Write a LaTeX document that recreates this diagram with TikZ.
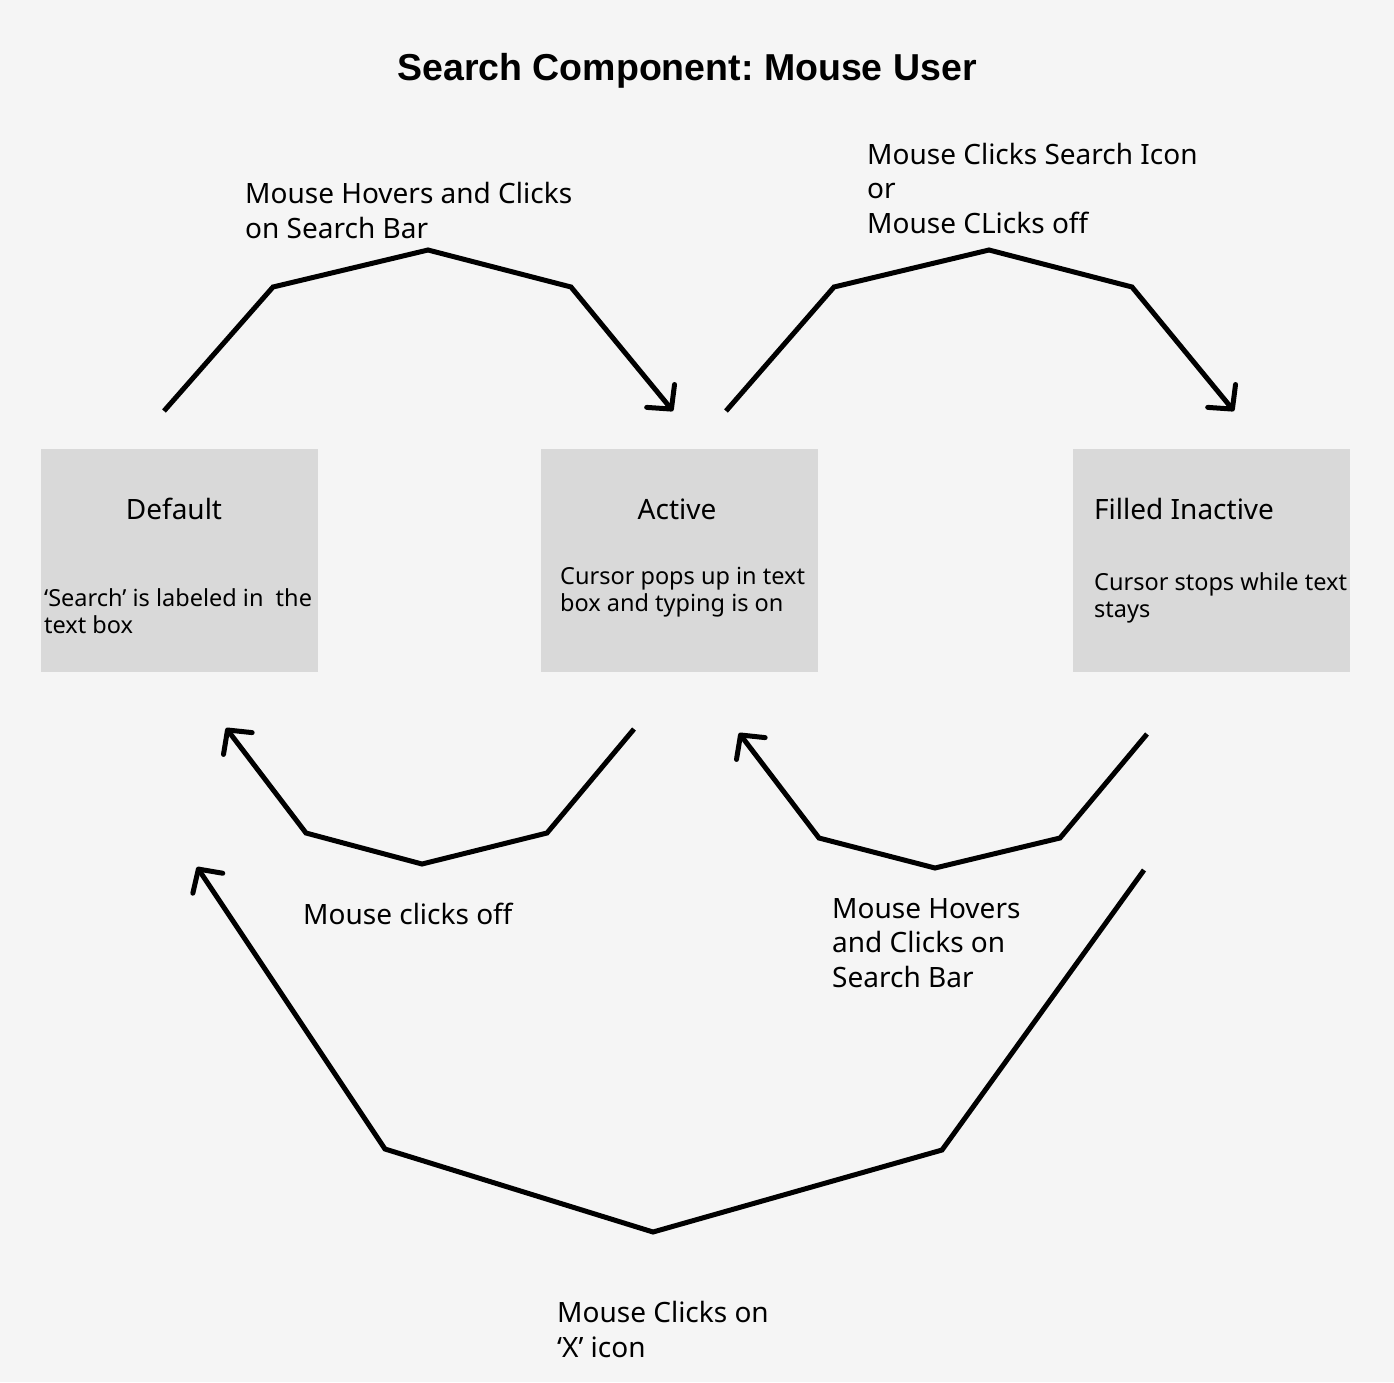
\documentclass[tikz,border=0pt]{standalone}
\usepackage{fontspec}
\setmainfont{Noto Sans}
\newfontfamily\titlefont{Liberation Sans}
\usetikzlibrary{arrows.meta}
\definecolor{canvas}{HTML}{F5F5F5}
\definecolor{boxgray}{HTML}{D9D9D9}
\frenchspacing
\tikzset{
    statebox/.style={fill=boxgray, minimum width=277pt, minimum height=223pt,
        inner sep=0pt, anchor=north west},
    flow/.style={line width=5pt, -{Straight Barb[length=17pt,width=36pt,round]}},
    lbl/.style={font=\fontsize{28}{34.5}\selectfont, align=left,
        anchor=base west, inner sep=0pt},
    head/.style={font=\fontsize{28}{30}\selectfont, inner sep=0pt, anchor=base},
    body/.style={font=\fontsize{23.5}{27}\selectfont, align=left,
        anchor=base west, inner sep=0pt}
}

\begin{document}
\begin{tikzpicture}[x=1pt, y=-1pt]
    \fill [canvas] (0,0) rectangle (1394,1382);
    \node [font=\titlefont\bfseries\fontsize{37.5}{40}\selectfont, inner sep=0pt, anchor=base]
        (title) at (687,80) {Search Component: Mouse User};
    % the three states
    \node [statebox] (default) at (41,449) {};
    \node [statebox] (active) at (541,449) {};
    \node [statebox] (filled) at (1073,449) {};
    \node [head] (defaulthead) at (174,519) {Default};
    \node [head] (activehead) at (677,519) {Active};
    \node [head, anchor=base west] (filledhead) at (1094,519) {Filled Inactive};
    % base anchor of a multi-line node sits on its last line
    \node [body] (defaultbody) at (44,633) {‘Search’ is labeled in \ the\\text box};
    \node [body] (activebody) at (560,611) {Cursor pops up in text\\box and typing is on};
    \node [body] (filledbody) at (1094,617) {Cursor stops while text\\stays};
    % free ends of the arrows
    \coordinate (defout) at (164,411);
    \coordinate (actin) at (673,411);
    \coordinate (actout) at (726,411);
    \coordinate (filin) at (1234,411);
    \coordinate (actback) at (634,729);
    \coordinate (defin) at (226,728);
    \coordinate (filback) at (1147,734);
    \coordinate (actin2) at (739,733);
    \coordinate (filx) at (1144,870);
    \coordinate (defx) at (197,867);
    \draw [flow] (defout) -- (273,287) -- (428,250) -- (571,287) -- (actin);
    \draw [flow] (actout) -- (834,287) -- (989,250) -- (1132,287) -- (filin);
    \draw [flow] (actback) -- (547,833) -- (422,864) -- (306,833) -- (defin);
    \draw [flow] (filback) -- (1060,838) -- (935,868) -- (819,838) -- (actin2);
    \draw [flow] (filx) -- (942,1150) -- (653,1232) -- (385,1149) -- (defx);
    % labels
    \node [lbl] (hoverlbl) at (245,238) {Mouse Hovers and Clicks\\on Search Bar};
    \node [lbl] (iconlbl) at (867,233) {Mouse Clicks Search Icon\\or\\Mouse CLicks off};
    \node [lbl] (offlbl) at (303,924) {Mouse clicks off};
    \node [lbl] (backlbl) at (832,987) {Mouse Hovers\\and Clicks on\\Search Bar};
    \node [lbl] (xlbl) at (557,1357) {Mouse Clicks on\\‘X’ icon};
\end{tikzpicture}
\end{document}
